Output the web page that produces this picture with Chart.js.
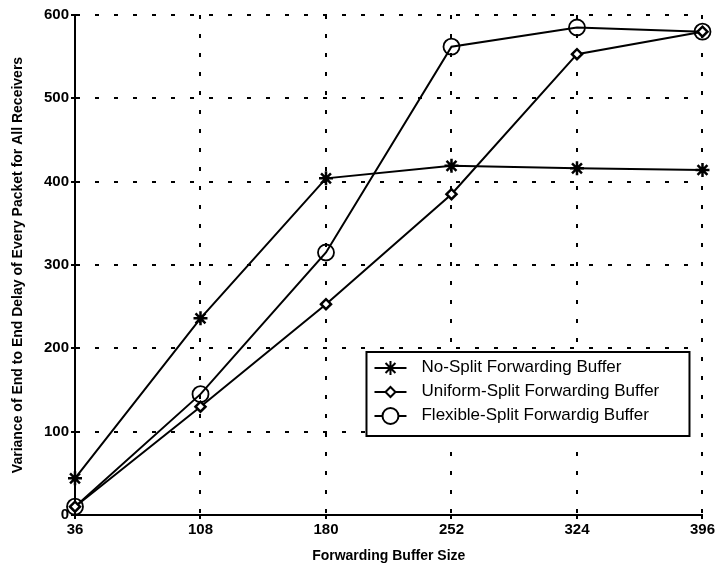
<!DOCTYPE html>
<html>
<head>
<meta charset="utf-8">
<script src="https://cdn.jsdelivr.net/npm/chart.js@4/dist/chart.umd.min.js"></script>
<style>
  body { margin: 0; background: #fff; }
</style>
</head>
<body>
<canvas id="bufChart" width="717" height="573"></canvas>
<script>
// buffer sizes on the x axis
const bufferSizes = [36, 108, 180, 252, 324, 396];
const yTicks = [0, 100, 200, 300, 400, 500, 600];

// variance values
const noSplit = [44, 236, 404, 419, 416, 414];
const uniformSplit = [10, 130, 253, 385, 553, 580];
const flexibleSplit = [10, 145, 315, 562, 585, 580];

const seriesNames = [
    'No-Split Forwarding Buffer',
    'Uniform-Split Forwarding Buffer',
    'Flexible-Split Forwardig Buffer'
];

const FONT = '"Liberation Sans", Arial, sans-serif';

function toPoints(vals) {
    return vals.map((v, i) => ({ x: bufferSizes[i], y: v }));
}

// legend box drawn inside the plot area, bottom right
const boxLegend = {
    id: 'boxLegend',
    afterDatasetsDraw(chart) {
        const { ctx, chartArea } = chart;
        const w = 323, h = 84;
        const x0 = chartArea.right - 13 - w;
        const y0 = chartArea.bottom - 79 - h;
        ctx.save();
        ctx.fillStyle = '#fff';
        ctx.fillRect(x0, y0, w, h);
        ctx.strokeStyle = '#000';
        ctx.lineWidth = 2;
        ctx.setLineDash([]);
        ctx.strokeRect(x0, y0, w, h);
        ctx.font = '17px ' + FONT;
        ctx.textBaseline = 'middle';
        ctx.fillStyle = '#000';
        chart.data.datasets.forEach((ds, i) => {
            const cy = y0 + 16 + i * 24;
            ctx.beginPath();
            ctx.lineWidth = 2;
            ctx.moveTo(x0 + 8, cy);
            ctx.lineTo(x0 + 40, cy);
            ctx.stroke();
            ctx.fillStyle = '#fff';
            Chart.helpers.drawPoint(ctx, {
                pointStyle: ds.pointStyle,
                radius: ds.pointRadius,
                borderWidth: ds.pointBorderWidth,
                rotation: 0
            }, x0 + 24, cy);
            ctx.fillStyle = '#000';
            ctx.fillText(ds.label, x0 + 55, cy - 1);
        });
        ctx.restore();
    }
};

const ctx = document.getElementById('bufChart').getContext('2d');
new Chart(ctx, {
    type: 'line',
    data: {
        datasets: [
            {
                label: seriesNames[0],
                data: toPoints(noSplit),
                borderColor: '#000',
                backgroundColor: '#000',
                borderWidth: 2,
                pointStyle: 'star',
                pointRadius: 7,
                pointBorderWidth: 2.5,
                tension: 0,
                clip: false
            },
            {
                label: seriesNames[1],
                data: toPoints(uniformSplit),
                borderColor: '#000',
                backgroundColor: '#fff',
                borderWidth: 2,
                pointStyle: 'rectRot',
                pointRadius: 5,
                pointBorderWidth: 2.5,
                tension: 0,
                clip: false
            },
            {
                label: seriesNames[2],
                data: toPoints(flexibleSplit),
                borderColor: '#000',
                backgroundColor: 'rgba(255,255,255,0)',
                borderWidth: 2,
                pointStyle: 'circle',
                pointRadius: 8,
                pointBorderWidth: 1.8,
                tension: 0,
                clip: false
            }
        ]
    },
    options: {
        responsive: false,
        animation: false,
        layout: {
            padding: { left: 2, top: 15, right: 9, bottom: 4 }
        },
        plugins: {
            legend: { display: false },
            tooltip: { enabled: false }
        },
        scales: {
            x: {
                type: 'linear',
                min: 36,
                max: 396,
                afterBuildTicks: (axis) => {
                    axis.ticks = bufferSizes.map(v => ({ value: v }));
                },
                afterFit: (axis) => { axis.height = 54; },
                grid: {
                    color: '#000',
                    lineWidth: 2,
                    tickLength: 4,
                    drawTicks: true
                },
                border: { display: true, color: '#000', width: 2, dash: [4, 15] },
                ticks: {
                    color: '#000',
                    padding: 2,
                    font: { family: FONT, size: 15, weight: 'bold' }
                },
                title: {
                    display: true,
                    text: 'Forwarding Buffer Size',
                    color: '#000',
                    padding: { top: 1 },
                    font: { family: FONT, size: 14, weight: 'bold' }
                }
            },
            y: {
                min: 0,
                max: 600,
                afterBuildTicks: (axis) => {
                    axis.ticks = yTicks.map(v => ({ value: v }));
                },
                afterFit: (axis) => { axis.width = 73; },
                grid: {
                    color: '#000',
                    lineWidth: 2,
                    tickLength: 4
                },
                border: { display: true, color: '#000', width: 2, dash: [4, 15] },
                ticks: {
                    color: '#000',
                    padding: 2,
                    font: { family: FONT, size: 15, weight: 'bold' }
                },
                title: {
                    display: true,
                    text: 'Variance of End to End Delay of Every Packet for All Receivers',
                    color: '#000',
                    padding: { top: 8, bottom: 4 },
                    font: { family: FONT, size: 14, weight: 'bold' }
                }
            }
        }
    },
    plugins: [boxLegend]
});
</script>
</body>
</html>
